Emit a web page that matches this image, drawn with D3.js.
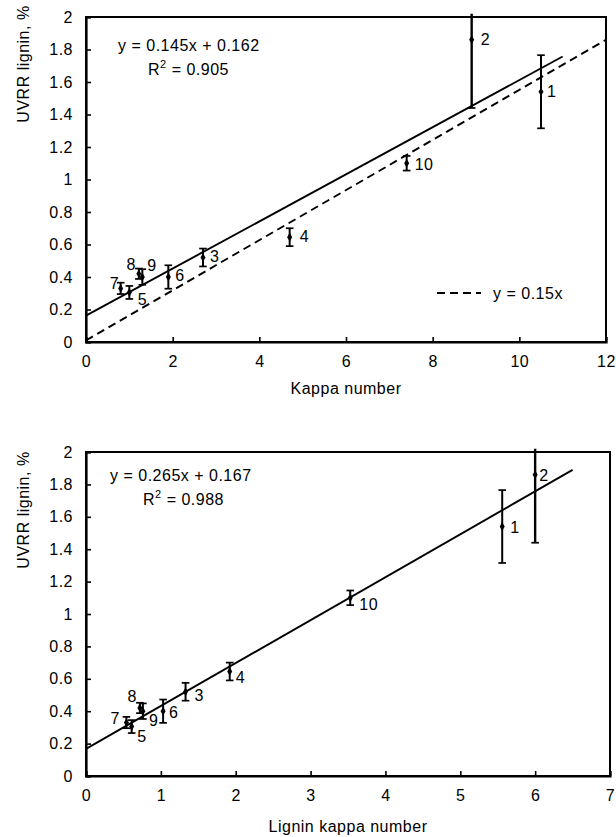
<!DOCTYPE html>
<html>
<head>
<meta charset="utf-8">
<script src="https://cdn.jsdelivr.net/npm/d3@7"></script>
<style>
  html, body { margin: 0; padding: 0; background: #fff; }
  svg { display: block; }
  text { font-family: "Liberation Sans", Arial, sans-serif; fill: #000; letter-spacing: 0.5px; }
</style>
</head>
<body>
<svg id="chart" width="616" height="837"></svg>
<script>
// ---------------- DATA ----------------
const sampleLabels = ["1", "2", "3", "4", "5", "6", "7", "8", "9", "10"];
const kappaNumber = [10.5, 8.9, 2.7, 4.7, 1.0, 1.9, 0.8, 1.22, 1.3, 7.4];
const ligninKappaNumber = [5.56, 6.0, 1.33, 1.92, 0.61, 1.03, 0.54, 0.72, 0.76, 3.53];
const uvrrLignin = [1.54, 1.86, 0.52, 0.645, 0.305, 0.40, 0.33, 0.42, 0.40, 1.10];
const uvrrError = [0.225, 0.42, 0.055, 0.055, 0.04, 0.072, 0.035, 0.032, 0.048, 0.045];

const topXTicks = [0, 2, 4, 6, 8, 10, 12];
const bottomXTicks = [0, 1, 2, 3, 4, 5, 6, 7];
const yTicks = [0, 0.2, 0.4, 0.6, 0.8, 1, 1.2, 1.4, 1.6, 1.8, 2];

const topFit = { slope: 0.145, intercept: 0.162, xEnd: 11.0, eq: "y = 0.145x + 0.162", r2: "0.905" };
const bottomFit = { slope: 0.265, intercept: 0.167, xEnd: 6.5, eq: "y = 0.265x + 0.167", r2: "0.988" };
// reference line drawn as in the picture (labelled y = 0.15x)
const refLineX = [0, 12];
const refLineY = [0.01, 1.86];

// label layout (pixel offsets from the marker: dx, dy, anchor)
const topLabelOffsets = [[6,0,"start"],[9,0,"start"],[7,-1.5,"start"],[10,-1,"start"],[8.5,7,"start"],
                         [7,-2,"start"],[-1.5,-5,"end"],[-3,-9,"end"],[5,-12,"start"],[8,1,"start"]];
const bottomLabelOffsets = [[8,1,"start"],[4,1,"start"],[9,4,"start"],[6,6,"start"],[5.5,10,"start"],
                            [6,1,"start"],[-6.5,-4,"end"],[-3,-12,"end"],[6,9,"start"],[9,6.5,"start"]];

// ---------------- DRAW ----------------
const svg = d3.select("#chart");
const FS = 16;

function panel(cfg) {
  const g = svg.append("g");
  const x = d3.scaleLinear().domain(cfg.xDomain).range([cfg.left, cfg.right]);
  const y = d3.scaleLinear().domain([0, 2]).range([cfg.bottom, cfg.top]);
  const clipId = "clip" + cfg.id;
  svg.append("clipPath").attr("id", clipId).append("rect")
    .attr("x", cfg.left).attr("y", cfg.top)
    .attr("width", cfg.right - cfg.left).attr("height", cfg.bottom - cfg.top);

  // frame
  g.append("rect").attr("x", cfg.left).attr("y", cfg.top)
    .attr("width", cfg.right - cfg.left).attr("height", cfg.bottom - cfg.top)
    .attr("fill", "none").attr("stroke", "#000").attr("stroke-width", 2);

  // axes (inward ticks)
  const xAxis = d3.axisBottom(x).tickValues(cfg.xTicks).tickSize(-5).tickPadding(14)
    .tickFormat(d3.format("d"));
  const gx = g.append("g").attr("transform", `translate(0,${cfg.bottom})`).call(xAxis);
  gx.select(".domain").attr("stroke-width", 2.2);
  gx.selectAll(".tick line").attr("stroke-width", 1.6);
  gx.selectAll(".tick text").attr("font-size", FS).attr("font-family", "Liberation Sans, Arial, sans-serif")
    .attr("dy", "0.71em");

  const yAxis = d3.axisLeft(y).tickValues(yTicks).tickSize(-5).tickPadding(13)
    .tickFormat(d => d3.format("")(+d.toFixed(1)));
  const gy = g.append("g").attr("transform", `translate(${cfg.left},0)`).call(yAxis);
  gy.select(".domain").attr("stroke-width", 2.2);
  gy.selectAll(".tick line").attr("stroke-width", 1.6);
  gy.selectAll(".tick text").attr("font-size", FS).attr("font-family", "Liberation Sans, Arial, sans-serif");

  // axis titles
  g.append("text").attr("x", (cfg.left + cfg.right) / 2).attr("y", cfg.xTitleY)
    .attr("text-anchor", "middle").attr("font-size", FS).text(cfg.xTitle);
  g.append("text").attr("transform", `translate(29,${cfg.yTitleCY}) rotate(-90)`)
    .attr("text-anchor", "middle").attr("font-size", FS).text("UVRR lignin, %");

  const plot = g.append("g").attr("clip-path", `url(#${clipId})`);

  // reference dashed line
  if (cfg.refLine) {
    plot.append("line")
      .attr("x1", x(refLineX[0])).attr("y1", y(refLineY[0]))
      .attr("x2", x(refLineX[1])).attr("y2", y(refLineY[1]))
      .attr("stroke", "#000").attr("stroke-width", 1.9).attr("stroke-dasharray", "8,5");
  }
  // regression line
  const fit = cfg.fit;
  plot.append("line")
    .attr("x1", x(0)).attr("y1", y(fit.intercept))
    .attr("x2", x(fit.xEnd)).attr("y2", y(fit.intercept + fit.slope * fit.xEnd))
    .attr("stroke", "#000").attr("stroke-width", 1.9);

  // error bars
  const xs = cfg.xs;
  sampleLabels.forEach((lab, i) => {
    const cx = x(xs[i]);
    const lo = uvrrLignin[i] - uvrrError[i];
    const hiRaw = uvrrLignin[i] + uvrrError[i];
    const clipped = hiRaw > 2;
    const hi = clipped ? 2.02 : hiRaw;
    g.append("line").attr("x1", cx).attr("x2", cx).attr("y1", y(lo)).attr("y2", y(hi))
      .attr("stroke", "#000").attr("stroke-width", clipped ? 2.4 : 2);
    const caps = clipped ? [lo] : [lo, hiRaw];
    caps.forEach(v => {
      g.append("line").attr("x1", cx - 3.8).attr("x2", cx + 3.8).attr("y1", y(v)).attr("y2", y(v))
        .attr("stroke", "#000").attr("stroke-width", 1.7);
    });
    // diamond marker
    g.append("path").attr("d", d3.symbol().type(d3.symbolDiamond).size(22)())
      .attr("transform", `translate(${cx},${y(uvrrLignin[i])})`).attr("fill", "#000");
    // label
    const off = cfg.labelOffsets[i];
    g.append("text").attr("x", cx + off[0]).attr("y", y(uvrrLignin[i]) + off[1] + 5.7)
      .attr("text-anchor", off[2]).attr("font-size", FS).text(lab);
  });

  // equation text
  g.append("text").attr("x", cfg.eqX).attr("y", cfg.eqY).attr("font-size", FS).text(fit.eq);
  const r2 = g.append("text").attr("x", cfg.r2X).attr("y", cfg.eqY + 24).attr("font-size", FS);
  r2.append("tspan").text("R");
  r2.append("tspan").attr("font-size", 11).attr("dy", -7).text("2");
  r2.append("tspan").attr("dy", 7).text(" = " + fit.r2);

  return { g, x, y };
}

const topPanel = panel({
  id: "top", xDomain: [0, 12], left: 86, right: 606, top: 17, bottom: 342,
  xTicks: topXTicks, xs: kappaNumber, fit: topFit, refLine: true,
  xTitle: "Kappa number", xTitleY: 394, yTitleCY: 64,
  labelOffsets: topLabelOffsets, eqX: 118, eqY: 51, r2X: 148
});

// legend for reference line
topPanel.g.append("line").attr("x1", 437).attr("x2", 481).attr("y1", 293).attr("y2", 293)
  .attr("stroke", "#000").attr("stroke-width", 1.9).attr("stroke-dasharray", "8,5");
topPanel.g.append("text").attr("x", 493).attr("y", 299).attr("font-size", FS).text("y = 0.15x");

panel({
  id: "bottom", xDomain: [0, 7], left: 86, right: 610, top: 452, bottom: 776,
  xTicks: bottomXTicks, xs: ligninKappaNumber, fit: bottomFit, refLine: false,
  xTitle: "Lignin kappa number", xTitleY: 832, yTitleCY: 510,
  labelOffsets: bottomLabelOffsets, eqX: 110, eqY: 481, r2X: 143
});
</script>
</body>
</html>
